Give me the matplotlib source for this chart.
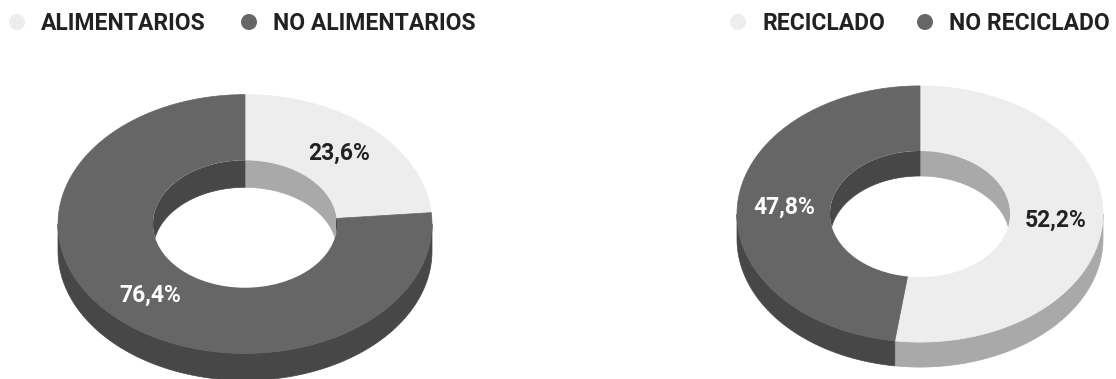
import numpy as np
import matplotlib.pyplot as plt
from matplotlib.patches import Polygon, Ellipse, Circle

# data
left_labels = ['ALIMENTARIOS', 'NO ALIMENTARIOS']
left_values = [23.6, 76.4]
right_labels = ['RECICLADO', 'NO RECICLADO']
right_values = [52.2, 47.8]

top_colors = ['#ededed', '#666666']
side_colors = ['#a9a9a9', '#474747']
text_colors = ['#222222', '#ffffff']

W, H = 1116, 379
fig = plt.figure(figsize=(W / 100, H / 100), dpi=100)
ax = fig.add_axes([0, 0, 1, 1])
ax.set_xlim(0, W)
ax.set_ylim(H, 0)
ax.axis('off')

FONT = ['Roboto', 'DejaVu Sans']


def arc(cx, cy, rx, ry, a0, a1, dy=0, n=120):
    t = np.radians(np.linspace(a0, a1, n))
    return np.column_stack([cx + rx * np.cos(t), cy - ry * np.sin(t) + dy])


def overlap(a, b, lo, hi):
    # a > b (clockwise), return part of [b, a] inside [lo, hi]
    s, e = max(b, lo), min(a, hi)
    return (e, s) if e > s else None


def donut3d(values, cx, cy, R, k, r, d):
    ry, iry = R * k, r * k
    frac = np.array(values) / sum(values)
    edges = 90 - 360 * np.concatenate([[0], np.cumsum(frac)])
    # outer front walls
    for i in range(len(values)):
        a, b = edges[i], edges[i + 1]
        for lo, hi in [(-180, 0), (-540, -360)]:
            seg = overlap(a, b, lo, hi)
            if seg:
                top = arc(cx, cy, R, ry, seg[0], seg[1])
                bot = arc(cx, cy, R, ry, seg[1], seg[0], dy=d)
                ax.add_patch(Polygon(np.vstack([top, bot]), closed=True,
                                     fc=side_colors[i], ec=side_colors[i], lw=0.5))
    # top surface
    for i in range(len(values)):
        a, b = edges[i], edges[i + 1]
        outer = arc(cx, cy, R, ry, a, b)
        inner = arc(cx, cy, r, iry, b, a)
        ax.add_patch(Polygon(np.vstack([outer, inner]), closed=True,
                             fc=top_colors[i], ec=top_colors[i], lw=0.5))
    # inner back walls, seen through the hole
    hole = Ellipse((cx, cy), 2 * r, 2 * iry, fc='white', ec='none')
    ax.add_patch(hole)
    for i in range(len(values)):
        a, b = edges[i], edges[i + 1]
        for lo, hi in [(0, 180), (-360, -180)]:
            seg = overlap(a, b, lo, hi)
            if seg:
                top = arc(cx, cy, r, iry, seg[0], seg[1])
                bot = arc(cx, cy, r, iry, seg[1], seg[0], dy=d)
                p = Polygon(np.vstack([top, bot]), closed=True,
                            fc=side_colors[i], ec=side_colors[i], lw=0.5)
                ax.add_patch(p)
                p.set_clip_path(hole)
    # labels
    rm = (R + r) / 2
    for i, v in enumerate(values):
        m = np.radians((edges[i] + edges[i + 1]) / 2)
        ax.text(cx + rm * np.cos(m), cy - rm * k * np.sin(m),
                f'{v:.1f}%'.replace('.', ','), ha='center', va='center',
                fontsize=16.5, fontweight='bold', color=text_colors[i], family=FONT)


def legend(labels, xs):
    for i, lab in enumerate(labels):
        ax.add_patch(Circle((xs[i], 22), 8, fc=top_colors[i], ec='none'))
        ax.text(xs[i] + 24, 23, lab, ha='left', va='center', fontsize=16.5,
                fontweight='bold', color='#222222', family=FONT)


donut3d(left_values, 245, 224, 187, 0.692, 92, 27)
donut3d(right_values, 920, 214, 183, 0.70, 90, 25)
legend(left_labels, [17, 249])
legend(right_labels, [738, 925])

fig.savefig('out.png', dpi=100)
